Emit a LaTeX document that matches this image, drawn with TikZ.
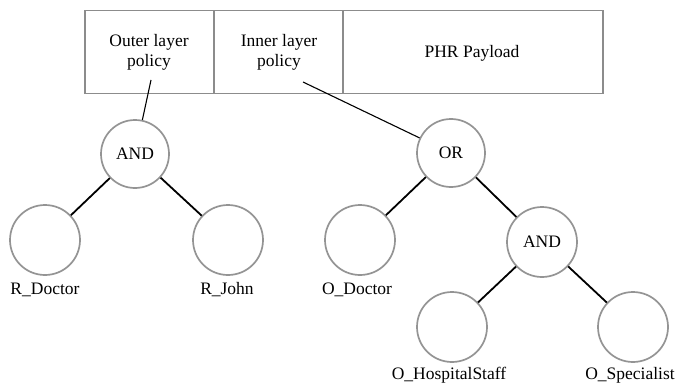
\documentclass[tikz,border=0pt]{standalone}
\usepackage{fontspec}
\setmainfont{Liberation Serif}
\begin{document}
\begin{tikzpicture}[x=1pt,y=-1pt,
  every node/.style={font=\fontsize{17.5}{20}\selectfont},
  gatenode/.style={circle,draw=black!42,line width=1.7pt,minimum size=68pt,inner sep=0pt},
  leafnode/.style={circle,draw=black!42,line width=1.7pt,minimum size=70pt,inner sep=0pt},
  cell/.style={draw=black!45,line width=1.8pt,minimum height=83pt,inner sep=0pt,align=center},
  edge/.style={black,line width=1.8pt},
  pointer/.style={black,line width=1.1pt},
  lbl/.style={inner sep=0pt,anchor=base}]
\useasboundingbox (0,0) rectangle (676,385);
% header boxes
\node[cell,minimum width=129pt] (outer) at (149.5,52) {};
\node[cell,minimum width=129pt] (inner) at (278.5,52) {};
\node[cell,minimum width=260pt] (phr) at (473,52) {};
\node[align=center] (outert) at (149,52) {Outer layer\\policy};
\node[align=center] (innert) at (279,52) {Inner layer\\policy};
\node (phrt) at (472,53) {PHR Payload};
\coordinate (op) at (151,80);
\coordinate (ip) at (303,82);
% tree nodes
\node[gatenode] (and1) at (135,154) {AND};
\node[leafnode] (rdoc) at (45,240) {};
\node[leafnode] (rjohn) at (228,240) {};
\node[gatenode] (or) at (451,153) {OR};
\node[leafnode] (odoc) at (360,240) {};
\node[leafnode] (and2) at (542,242) {AND};
\node[leafnode] (ohs) at (452,327) {};
\node[leafnode] (ospec) at (633,327) {};
% labels
\node[lbl] (l1) at (45,294) {R\_Doctor};
\node[lbl] (l2) at (227,294) {R\_John};
\node[lbl] (l3) at (357,294) {O\_Doctor};
\node[lbl] (l4) at (449,379) {O\_HospitalStaff};
\node[lbl] (l5) at (630,379) {O\_Specialist};
% connectors
\draw[pointer] (op) -- (and1);
\draw[pointer] (ip) -- (or);
\draw[edge] (and1) -- (rdoc);
\draw[edge] (and1) -- (rjohn);
\draw[edge] (or) -- (odoc);
\draw[edge] (or) -- (and2);
\draw[edge] (and2) -- (ohs);
\draw[edge] (and2) -- (ospec);
\end{tikzpicture}
\end{document}
